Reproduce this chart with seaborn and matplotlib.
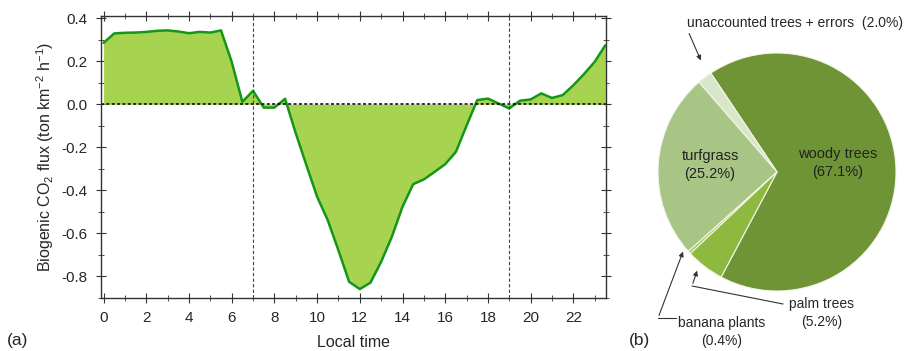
import numpy as np
import pandas as pd
import seaborn as sns
import matplotlib.pyplot as plt
from matplotlib.ticker import MultipleLocator, FormatStrFormatter

# Datos del ciclo diario (cada media hora)
horas = np.arange(0, 24, 0.5)
flujo = [0.285, 0.329, 0.332, 0.333, 0.336, 0.341, 0.343, 0.338, 0.330, 0.336,
         0.333, 0.343, 0.197, 0.011, 0.062, -0.016, -0.016, 0.025, -0.135, -0.284,
         -0.43, -0.54, -0.68, -0.826, -0.86, -0.83, -0.733, -0.617, -0.477, -0.372,
         -0.35, -0.315, -0.279, -0.222, -0.10, 0.019, 0.026, 0.003, -0.020, 0.016,
         0.022, 0.050, 0.029, 0.042, 0.088, 0.14, 0.197, 0.274]

# Datos del pastel
categorias = ['woody trees', 'unaccounted trees + errors', 'turfgrass', 'banana plants', 'palm trees']
porcentajes = [67.1, 2.0, 25.2, 0.4, 5.2]
colores_pie = ['#6f9436', '#d8e7c9', '#a8c586', '#a3cc55', '#8dba3e']

df = pd.DataFrame({'hora': horas, 'flujo': flujo})

sns.set_style('ticks')
plt.rcParams['font.family'] = ['Liberation Sans', 'DejaVu Sans']
plt.rcParams['axes.unicode_minus'] = False
plt.rcParams['mathtext.fontset'] = 'custom'
plt.rcParams['mathtext.rm'] = 'Liberation Sans'
plt.rcParams['mathtext.it'] = 'Liberation Sans'

W, H = 909, 351
fig = plt.figure(figsize=(W / 100, H / 100), dpi=100)

# ==========================================
# (a) Flujo biogénico
# ==========================================
ax = fig.add_axes([101 / W, 1 - 297.7 / H, (606 - 101) / W, (297.7 - 16) / H])
ax.fill_between(df['hora'], df['flujo'], 0, color='#a6d451', linewidth=0)
sns.lineplot(data=df, x='hora', y='flujo', ax=ax, color='#15961a', linewidth=1.8)
ax.axhline(0, color='black', linestyle=(0, (2, 1.5)), linewidth=1.1)
for xv in [7, 19]:
    ax.axvline(xv, color='#444444', linestyle=(0, (3, 2)), linewidth=0.8)

ax.set_xlim(-0.12, 23.53)
ax.set_ylim(-0.9, 0.41)
ax.xaxis.set_major_locator(MultipleLocator(2))
ax.xaxis.set_minor_locator(MultipleLocator(1))
ax.yaxis.set_major_locator(MultipleLocator(0.2))
ax.yaxis.set_minor_locator(MultipleLocator(0.1))
ax.yaxis.set_major_formatter(FormatStrFormatter('%.1f'))
ax.tick_params(which='both', top=True, right=True, direction='inout', color='#333333')
ax.tick_params(which='major', length=7, labelsize=11, pad=6)
ax.tick_params(which='minor', length=4)
for s in ax.spines.values():
    s.set_color('#333333')
    s.set_linewidth(1.0)
ax.set_xlabel('Local time', fontsize=11.5, labelpad=7)
ax.set_ylabel('Biogenic CO$_2$ flux (ton km$^{-2}$ h$^{-1}$)', fontsize=11.5, labelpad=4)
fig.text(18 / W, 1 - 340 / H, '(a)', fontsize=12.5, ha='center', va='center')

# ==========================================
# (b) Pastel
# ==========================================
ax2 = fig.add_axes([630 / W, 0, (W - 630) / W, 1])
ax2.pie(porcentajes, colors=colores_pie, startangle=242, counterclock=True,
        center=(777, H - 172), radius=119,
        wedgeprops=dict(edgecolor='#f2f5ec', linewidth=0.8))
ax2.set_xlim(630, W)
ax2.set_ylim(0, H)
ax2.set_aspect('equal')
ax2.axis('off')

ax2.text(838, H - 163, 'woody trees\n(67.1%)', fontsize=10.5, ha='center', va='center',
         color='#222222', linespacing=1.4)
ax2.text(710, H - 165, 'turfgrass\n(25.2%)', fontsize=10.5, ha='center', va='center',
         color='#222222', linespacing=1.4)
ax2.text(795, H - 23, 'unaccounted trees + errors  (2.0%)', fontsize=10, ha='center', va='center')
ax2.annotate('', xy=(702, H - 63), xytext=(688, H - 31),
             arrowprops=dict(arrowstyle='-|>', color='#333333', lw=0.8, mutation_scale=7))
ax2.text(822, H - 313, 'palm trees\n(5.2%)', fontsize=10, ha='center', va='center', linespacing=1.3)
ax2.plot([783, 692], [H - 304, H - 286], color='#333333', lw=0.8)
ax2.annotate('', xy=(698, H - 268), xytext=(692, H - 286),
             arrowprops=dict(arrowstyle='-|>', color='#333333', lw=0.8, mutation_scale=7))
ax2.text(722, H - 332, 'banana plants\n(0.4%)', fontsize=10, ha='center', va='center', linespacing=1.3)
ax2.plot([676, 658], [H - 318, H - 318], color='#333333', lw=0.8)
ax2.annotate('', xy=(684, H - 249), xytext=(658, H - 318),
             arrowprops=dict(arrowstyle='-|>', color='#333333', lw=0.8, mutation_scale=7))
fig.text(640 / W, 1 - 340 / H, '(b)', fontsize=12.5, ha='center', va='center')

fig.savefig('out.png', dpi=100)
